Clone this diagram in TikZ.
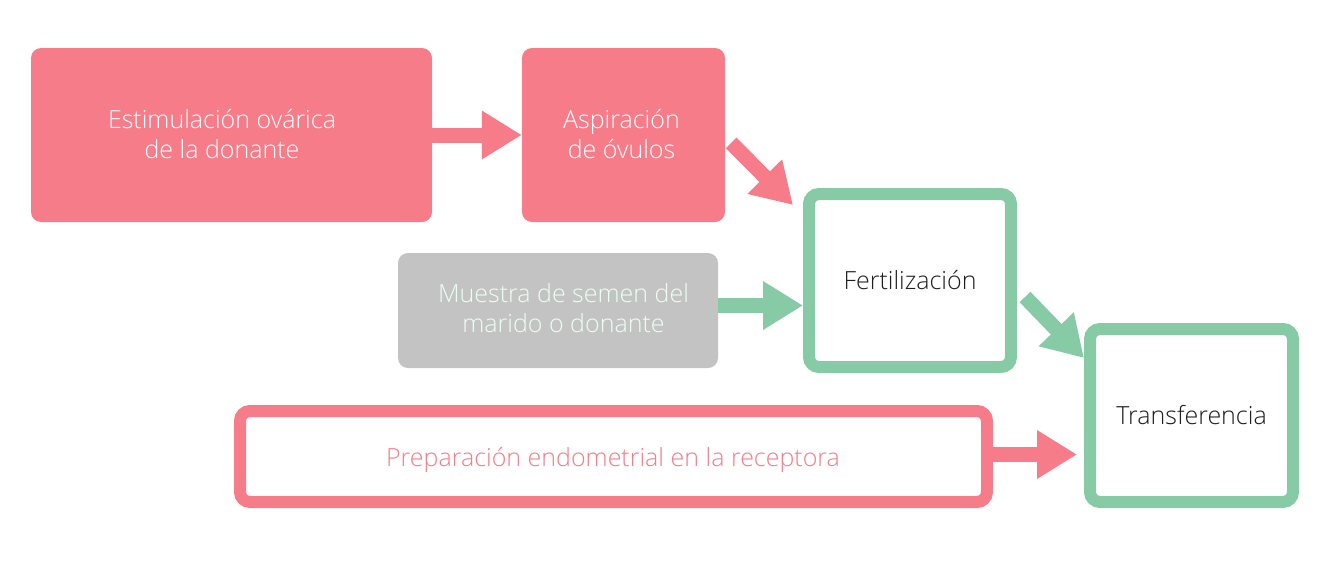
\documentclass[tikz,border=0pt]{standalone}
\usepackage{fontspec}
\setmainfont{Open Sans}[UprightFont={Open Sans Light}]
\usetikzlibrary{arrows.meta}
\definecolor{pinkc}{HTML}{F67C8A}
\definecolor{greenc}{HTML}{86CBA5}
\definecolor{grayc}{HTML}{C3C3C3}
\definecolor{mint}{HTML}{EAFFF2}
\definecolor{ink}{HTML}{1E1E1E}
\begin{document}
\begin{tikzpicture}[x=1pt,y=-1pt,
  every node/.style={font=\fontsize{25}{30}\selectfont, align=center, inner sep=0pt},
  filledbox/.style={rectangle, rounded corners=10pt, draw=none},
  framebox/.style={rectangle, rounded corners=10pt, line width=12pt, fill=white},
  blockarrow/.style={line width=15pt, line cap=butt, -{Triangle[length=40pt,width=46pt]}},
]
\useasboundingbox (0,0) rectangle (1338,574);
% boxes
\node[filledbox, fill=pinkc, minimum width=401pt, minimum height=174pt] (b1) at (231.5,135) {};
\node[text=white] (b1t) at (222,134) {Estimulación ovárica\\de la donante};
\node[filledbox, fill=pinkc, minimum width=203pt, minimum height=174pt] (b2) at (623.5,135) {};
\node[text=white] (b2t) at (621.5,134) {Aspiración\\de óvulos};
\node[filledbox, fill=grayc, minimum width=320pt, minimum height=115pt] (g) at (558,310.5) {};
\node[text=mint] (gt) at (563.5,308) {Muestra de semen del\\marido o donante};
\node[framebox, draw=greenc, minimum width=202pt, minimum height=173pt, text=ink] (f) at (910,280.5) {Fertilización};
\node[framebox, draw=greenc, minimum width=203pt, minimum height=173pt, text=ink] (t) at (1191.5,415.5) {Transferencia};
\node[framebox, draw=pinkc, minimum width=747pt, minimum height=91pt] (p) at (613.5,456.5) {};
\node[text=pinkc] (pt) at (613,460) {Preparación endometrial en la receptora};
% connectors
\coordinate (a2s) at ([shift={(6,8)}]b2.east);
\coordinate (a2e) at ([shift={(-10,17)}]f.north west);
\coordinate (a3s) at ([shift={(0,-5)}]g.east);
\coordinate (a3e) at ([shift={(0,-5)}]g.east -| f.west);
\coordinate (a4s) at ([shift={(8,-76)}]f.south east);
\coordinate (a4e) at ([shift={(0,35)}]t.north west);
\coordinate (a5s) at ([shift={(0,-2)}]p.east);
\coordinate (a5e) at ([shift={(-7,0)}]a5s -| t.west);
\draw[blockarrow, pinkc] (b1.east) -- (b2.west);
\draw[blockarrow, pinkc] (a2s) -- (a2e);
\draw[blockarrow, greenc] (a3s) -- (a3e);
\draw[blockarrow, greenc] (a4s) -- (a4e);
\draw[blockarrow, pinkc] (a5s) -- (a5e);
\end{tikzpicture}
\end{document}
